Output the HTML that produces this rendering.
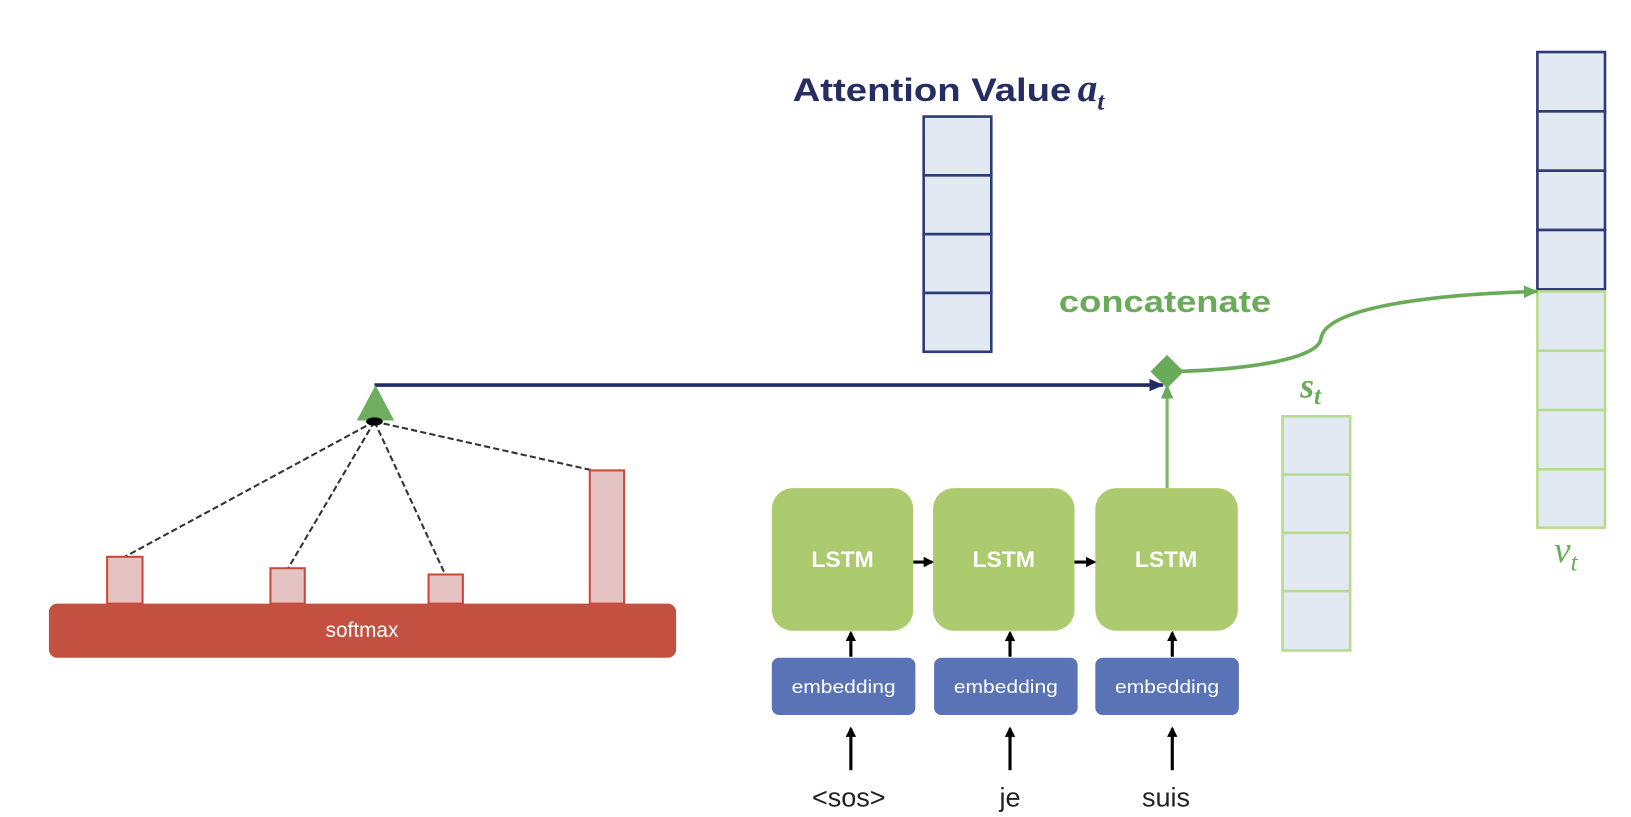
<!DOCTYPE html>
<html><head><meta charset="utf-8"><style>
html,body{margin:0;padding:0;background:#fff;}
svg{display:block;}
</style></head><body>
<svg width="1631" height="817" viewBox="0 0 1568 785" preserveAspectRatio="none" xmlns="http://www.w3.org/2000/svg">
<defs>
<marker id="an" markerWidth="14" markerHeight="12" refX="13" refY="6" orient="auto" markerUnits="userSpaceOnUse"><path d="M0,0 L14,6 L0,12 Z" fill="#222a66"/></marker>
<marker id="ag" markerWidth="14" markerHeight="12" refX="13" refY="6" orient="auto" markerUnits="userSpaceOnUse"><path d="M0,0 L14,6 L0,12 Z" fill="#6aab5a"/></marker>
<marker id="ab" markerWidth="10" markerHeight="10" refX="8" refY="5" orient="auto" markerUnits="userSpaceOnUse"><path d="M0,0 L10,5 L0,10 Z" fill="#000"/></marker>
</defs>
<text x="762" y="97" font-family="Liberation Sans, sans-serif" font-weight="bold" font-size="31" fill="#252d63" textLength="268" lengthAdjust="spacingAndGlyphs">Attention Value</text>
<text x="1036" y="97" font-family="Liberation Serif, serif" font-style="italic" font-weight="bold" font-size="38" fill="#252d63">a<tspan font-size="24" dy="8">t</tspan></text>
<g fill="#e3e9f3" stroke="#2f3a78" stroke-width="2.5">
<rect x="888" y="112" width="65" height="56.5"/><rect x="888" y="168.5" width="65" height="56.5"/><rect x="888" y="225" width="65" height="56.5"/><rect x="888" y="281.5" width="65" height="56.5"/>
<rect x="1478" y="50" width="65" height="57"/><rect x="1478" y="107" width="65" height="57"/><rect x="1478" y="164" width="65" height="57"/><rect x="1478" y="221" width="65" height="57"/>
</g>
<g fill="#e3e9f3" stroke="#b8dc8f" stroke-width="2.5">
<rect x="1478" y="280" width="65" height="57"/><rect x="1478" y="337" width="65" height="57"/><rect x="1478" y="394" width="65" height="57"/><rect x="1478" y="451" width="65" height="56"/>
<rect x="1233" y="400" width="65" height="56"/><rect x="1233" y="456" width="65" height="56"/><rect x="1233" y="512" width="65" height="56"/><rect x="1233" y="568" width="65" height="57"/>
</g>
<text x="1018" y="300" font-family="Liberation Sans, sans-serif" font-weight="bold" font-size="29" fill="#6aab5a" textLength="204" lengthAdjust="spacingAndGlyphs">concatenate</text>
<text x="1250" y="382" font-family="Liberation Serif, serif" font-style="italic" font-weight="bold" font-size="34" fill="#6aab5a">s<tspan font-size="24" dy="6">t</tspan></text>
<text x="1494" y="540" font-family="Liberation Serif, serif" font-style="italic" font-size="36" fill="#6aab5a">v<tspan font-size="24" dy="8">t</tspan></text>
<line x1="360" y1="370" x2="1118" y2="370" stroke="#222a66" stroke-width="3.5" marker-end="url(#an)"/>
<line x1="1122" y1="469" x2="1122" y2="370" stroke="#7fb565" stroke-width="3" marker-end="url(#ag)"/>
<path d="M1130 357 C1200 355 1268 345 1270 325 C1275 292 1400 282 1478 280" fill="none" stroke="#6aab5a" stroke-width="3.5" marker-end="url(#ag)"/>
<polygon points="1122,341 1138,357 1122,373 1106,357" fill="#6aab5a"/>
<g stroke="#333" stroke-width="2" stroke-dasharray="6,3" fill="none">
<line x1="360" y1="405" x2="120" y2="535"/><line x1="360" y1="405" x2="277" y2="546"/><line x1="360" y1="405" x2="428" y2="552"/><line x1="360" y1="405" x2="570" y2="452"/>
</g>
<polygon points="361,370 379,404 343,404" fill="#6fae5f"/>
<ellipse cx="360" cy="405" rx="8" ry="4" fill="#000"/>
<rect x="47" y="580" width="603" height="52" rx="8" fill="#c45042"/>
<g fill="#e5c3c3" stroke="#c9493c" stroke-width="2">
<rect x="103" y="535" width="34" height="45"/><rect x="260" y="546" width="33" height="34"/><rect x="412" y="552" width="33" height="28"/><rect x="567" y="452" width="33" height="128"/>
</g>
<text x="348" y="612" text-anchor="middle" font-family="Liberation Sans, sans-serif" font-size="20" fill="#fff">softmax</text>
<g fill="#acca6e">
<rect x="742" y="469" width="136" height="137" rx="20"/><rect x="897" y="469" width="136" height="137" rx="20"/><rect x="1053" y="469" width="137" height="137" rx="20"/>
</g>
<g font-family="Liberation Sans, sans-serif" font-weight="bold" font-size="21" fill="#fff" text-anchor="middle">
<text x="810" y="545" textLength="60" lengthAdjust="spacingAndGlyphs">LSTM</text><text x="965" y="545" textLength="60" lengthAdjust="spacingAndGlyphs">LSTM</text><text x="1121" y="545" textLength="60" lengthAdjust="spacingAndGlyphs">LSTM</text>
</g>
<g fill="#5a72b6">
<rect x="742" y="632" width="138" height="55" rx="7"/><rect x="898" y="632" width="138" height="55" rx="7"/><rect x="1053" y="632" width="138" height="55" rx="7"/>
</g>
<g font-family="Liberation Sans, sans-serif" font-size="18" fill="#fff" text-anchor="middle">
<text x="811" y="666" textLength="100" lengthAdjust="spacingAndGlyphs">embedding</text><text x="967" y="666" textLength="100" lengthAdjust="spacingAndGlyphs">embedding</text><text x="1122" y="666" textLength="100" lengthAdjust="spacingAndGlyphs">embedding</text>
</g>
<g stroke="#000" stroke-width="3" marker-end="url(#ab)">
<line x1="878" y1="540" x2="896" y2="540"/><line x1="1033" y1="540" x2="1052" y2="540"/>
<line x1="818" y1="631" x2="818" y2="608"/><line x1="971" y1="631" x2="971" y2="608"/><line x1="1127" y1="631" x2="1127" y2="608"/>
<line x1="818" y1="740" x2="818" y2="700"/><line x1="971" y1="740" x2="971" y2="700"/><line x1="1127" y1="740" x2="1127" y2="700"/>
</g>
<g font-family="Liberation Sans, sans-serif" font-size="26" fill="#222" text-anchor="middle">
<text x="816" y="775">&lt;sos&gt;</text><text x="971" y="775">je</text><text x="1121" y="775">suis</text>
</g>
</svg>
</body></html>
